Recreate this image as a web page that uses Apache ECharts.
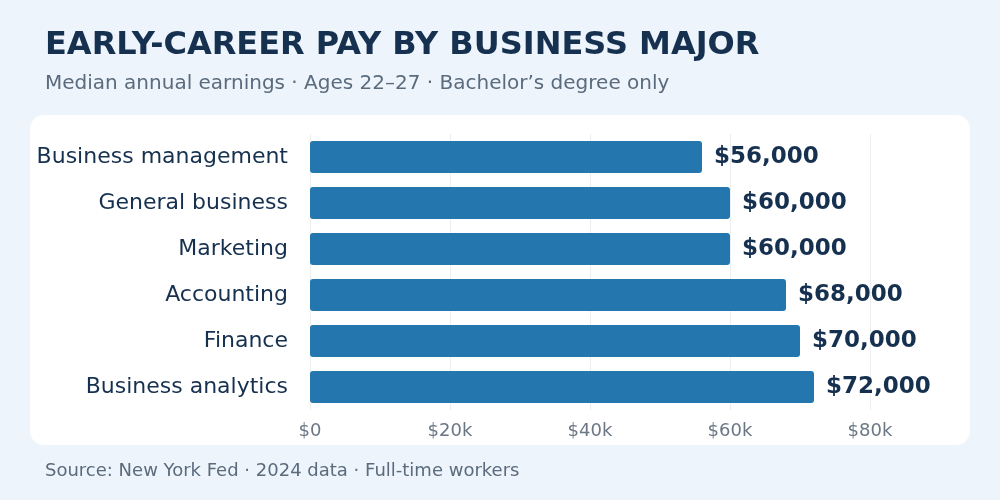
<!DOCTYPE html>
<html><head><meta charset="utf-8">
<script src="https://cdn.jsdelivr.net/npm/echarts@6/dist/echarts.min.js"></script>
<style>html,body{margin:0;background:#eef4fb}#c{width:1000px;height:500px}</style>
</head><body><div id="c"></div>
<script>
const majors = ["Business management", "General business", "Marketing", "Accounting", "Finance", "Business analytics"];
const pay = [56000, 60000, 60000, 68000, 70000, 72000];
const ticks = [0, 20000, 40000, 60000, 80000];

const font = "DejaVu Sans";
const chart = echarts.init(document.getElementById("c"));
chart.setOption({
  backgroundColor: "#eef4fb",
  textStyle: { fontFamily: font },
  graphic: [
    { type: "rect", left: 30, top: 115, z: -10, shape: { width: 940, height: 330, r: 14 }, style: { fill: "#fff" } },
    { type: "text", left: 45, top: 30, style: { text: "EARLY-CAREER PAY BY BUSINESS MAJOR", font: "bold 32px " + font, fill: "#16304f" } },
    { type: "text", left: 45, top: 74, style: { text: "Median annual earnings · Ages 22–27 · Bachelor’s degree only", font: "20px " + font, fill: "#5a6b7d" } },
    { type: "text", left: 45, top: 462, style: { text: "Source: New York Fed · 2024 data · Full-time workers", font: "18px " + font, fill: "#5a6b7d" } }
  ],
  grid: { left: 310, right: 130, top: 134, bottom: 90 },
  xAxis: {
    type: "value", min: 0, max: 80000, interval: 20000,
    axisLine: { show: false }, axisTick: { show: false },
    splitLine: { lineStyle: { color: "#eceff2" } },
    axisLabel: { color: "#6b7785", fontSize: 18, margin: 12,
      formatter: v => ticks.includes(v) ? (v === 0 ? "$0" : "$" + v / 1000 + "k") : "" }
  },
  yAxis: {
    type: "category", data: majors, inverse: true,
    axisLine: { show: false }, axisTick: { show: false },
    axisLabel: { color: "#16304f", fontSize: 22, margin: 22 }
  },
  series: [{
    type: "bar", data: pay, barWidth: 32,
    itemStyle: { color: "#2477ae", borderRadius: 3 },
    label: { show: true, position: "right", distance: 12, color: "#16304f", fontSize: 23, fontWeight: "bold",
      formatter: p => "$" + p.value.toLocaleString("en-US") }
  }]
});
</script></body></html>
